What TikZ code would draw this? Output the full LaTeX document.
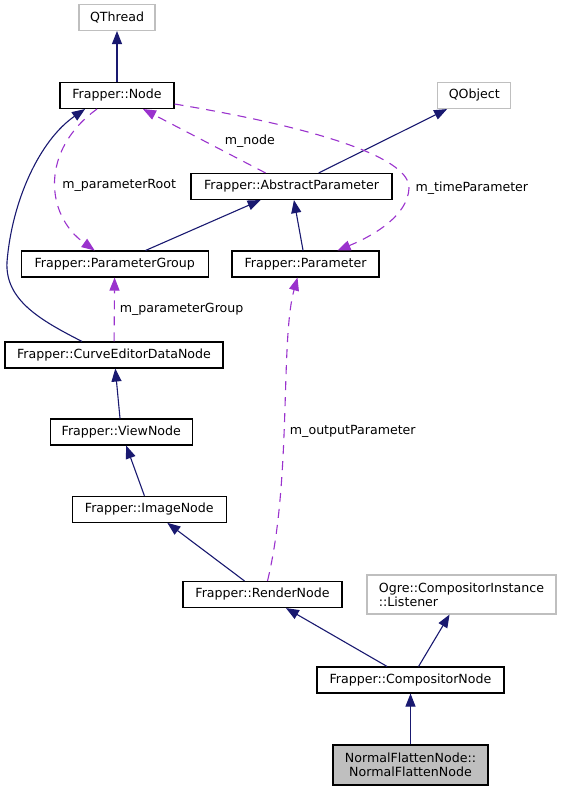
\documentclass[tikz,border=0pt]{standalone}
\usepackage{fontspec}
\setmainfont{DejaVu Sans}
\usepackage{tikz}
\usetikzlibrary{positioning, arrows.meta, calc}
\definecolor{navy}{HTML}{191970}
\definecolor{orchid}{HTML}{9A32CD}
\definecolor{extgray}{HTML}{BFBFBF}
\newcommand{\dxfont}{\fontsize{12.6bp}{14bp}\selectfont}
\tikzset{
	cls/.style={draw=black, line width=1.1bp, minimum height=26bp, inner sep=0pt, font=\dxfont},
	extcls/.style={cls, draw=extgray},
	inherit/.style={draw=navy, line width=1.1bp, -{Triangle[length=13bp, width=10bp]}},
	usage/.style={draw=orchid, line width=1.1bp, dash pattern=on 9bp off 7bp, -{Triangle[length=13bp, width=10bp]}},
	lbl/.style={inner sep=0pt, font=\dxfont}
}
\begin{document}
\begin{tikzpicture}[x=1bp, y=-1bp]
		\useasboundingbox (0,0) rectangle (561,792);
		
		% Base classes
		\node[extcls, minimum width=76bp] (qthread) at (117,17.5) {QThread};
		\node[cls, minimum width=114bp] (fnode) at ($(qthread) + (0,78)$) {Frapper::Node};
		\node[extcls, minimum width=73bp] (qobject) at ($(qthread) + (357.3,78)$) {QObject};
		\node[cls, minimum width=201bp] (abstract) at ($(qthread) + (174.5,169)$) {Frapper::AbstractParameter};
		\node[cls, minimum width=187bp] (group) at ($(qthread) + (-2.3,246.5)$) {Frapper::ParameterGroup};
		\node[cls, minimum width=147bp] (param) at ($(qthread) + (188.5,246.5)$) {Frapper::Parameter};
		
		% Node chain
		\node[cls, minimum width=218bp] (curve) at ($(qthread) + (-3,337.5)$) {Frapper::CurveEditorDataNode};
		\node[cls, minimum width=142bp] (view) at ($(qthread) + (4.3,414.5)$) {Frapper::ViewNode};
		\node[cls, minimum width=154bp] (image) at ($(qthread) + (32.3,491.8)$) {Frapper::ImageNode};
		\node[cls, minimum width=159bp] (render) at ($(qthread) + (145.5,577)$) {Frapper::RenderNode};
		\node[extcls, minimum width=189bp, minimum height=39bp, align=left] (listener) at ($(qthread) + (344.5,577)$) {Ogre::CompositorInstance\\::Listener};
		\node[cls, minimum width=187bp] (comp) at ($(qthread) + (293.5,662.5)$) {Frapper::CompositorNode};
		\node[cls, fill=extgray, minimum width=155bp, minimum height=40bp, align=center] (flatten) at ($(qthread) + (293.5,747.5)$) {NormalFlattenNode::\\NormalFlattenNode};
		
		% Inheritance
		\draw[inherit] (fnode) -- (qthread);
		\draw[inherit] (abstract) -- (qobject);
		\draw[inherit] (group) -- (abstract);
		\draw[inherit] (param) -- (abstract);
		\draw[inherit] ([xshift=-32bp]curve.north) .. controls (40,320) and (5,300) .. (7,262)
			.. controls (12,200) and (40,140) .. ([xshift=-32bp]fnode.south);
		\draw[inherit] (view) -- (curve);
		\draw[inherit] (image) -- (view);
		\draw[inherit] (render) -- (image);
		\draw[inherit] (comp) -- (render);
		\draw[inherit] (comp) -- (listener);
		\draw[inherit] (flatten) -- (comp);
		
		% Members
		\draw[usage] ([xshift=-20bp]fnode.south) .. controls (40,150) and (45,215) .. ([xshift=-20bp]group.north)
			node[lbl, pos=0.5, right=6bp, yshift=-3.5bp] {m\_parameterRoot};
		\draw[usage] (abstract) -- (fnode) node[lbl, midway, right=20bp] {m\_node};
		\draw[usage] ([yshift=-8.5bp]fnode.east) .. controls (330,130) and (410,160) .. (409,188)
			node[lbl, right=6bp] {m\_timeParameter}
			.. controls (408,215) and (375,235) .. ([xshift=32bp]param.north);
		\draw[usage] (curve) -- (group) node[lbl, midway, right=5bp] {m\_parameterGroup};
		\draw[usage] ([xshift=5bp]render.north) .. controls (292,480) and (280,340) .. ([xshift=-8bp]param.south)
			node[lbl, pos=0.45, right=5bp] {m\_outputParameter};
	\end{tikzpicture}
\end{document}
